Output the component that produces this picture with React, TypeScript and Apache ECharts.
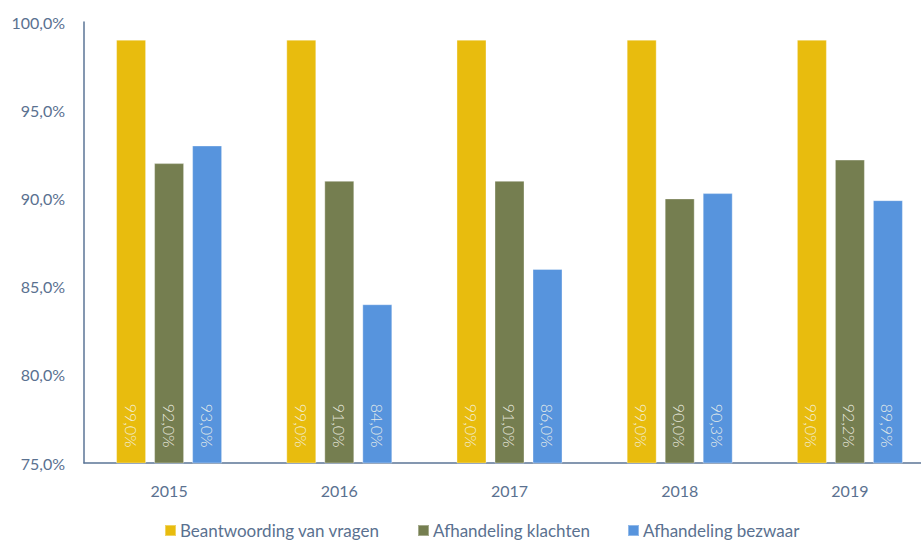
import React, { useEffect, useRef } from "react";
import * as echarts from "echarts";

const categories = ["2015", "2016", "2017", "2018", "2019"];
const seriesNames = ["Beantwoording van vragen", "Afhandeling klachten", "Afhandeling bezwaar"];
const vragen = [99.0, 99.0, 99.0, 99.0, 99.0];
const klachten = [92.0, 91.0, 91.0, 90.0, 92.2];
const bezwaar = [93.0, 84.0, 86.0, 90.3, 89.9];
const colors = ["#E8BC0E", "#757E50", "#5794DD"];
const legendLefts = [164, 417, 627];

const fmt = (v: number) => v.toFixed(1).replace(".", ",") + "%";

export default function App() {
  const ref = useRef<HTMLDivElement>(null);
  useEffect(() => {
    if (!ref.current) return;
    const chart = echarts.init(ref.current, null, { renderer: "svg" });
    const font = "Lato";
    const textColor = "#5A7190";
    const data = [vragen, klachten, bezwaar];
    chart.setOption({
      animation: false,
      textStyle: { fontFamily: font },
      grid: {
        left: 84,
        top: 22,
        width: 851,
        height: 441,
        containLabel: false,
        outerBoundsMode: "none",
      },
      legend: seriesNames.map((n, i) => ({
        top: 522,
        left: legendLefts[i],
        padding: 0,
        itemWidth: 11,
        itemHeight: 11,
        icon: "rect",
        textStyle: { color: textColor, fontSize: 17, fontFamily: font, padding: [0, 0, 0, -1] },
        data: [n],
      })),
      xAxis: {
        type: "category",
        data: categories,
        axisLine: { lineStyle: { color: "#5B7596", width: 1.5 } },
        axisTick: { show: false },
        axisLabel: { color: textColor, fontSize: 16, margin: 19, fontFamily: font },
      },
      yAxis: {
        type: "value",
        min: 75,
        max: 100,
        interval: 5,
        axisLine: { show: true, lineStyle: { color: "#5B7596", width: 1.5 } },
        axisTick: { show: false },
        splitLine: { show: false },
        axisLabel: {
          color: textColor,
          fontSize: 16,
          margin: 19,
          fontFamily: font,
          formatter: (v: number) => fmt(v),
        },
      },
      series: seriesNames.map((name, i) => ({
        name,
        type: "bar",
        data: data[i],
        barWidth: 30,
        barGap: "26.7%",
        itemStyle: { color: colors[i], borderColor: "rgba(255,255,255,0.35)", borderWidth: 1 },
        label: {
          show: true,
          position: "insideBottom",
          rotate: -90,
          align: "right",
          verticalAlign: "middle",
          distance: 16,
          color: "rgba(245,245,235,0.9)",
          fontSize: 16,
          fontWeight: 300,
          fontFamily: font,
          formatter: (p: any) => fmt(p.value),
        },
      })),
    });
    return () => chart.dispose();
  }, []);
  return <div ref={ref} style={{ width: 921, height: 542, position: "absolute", left: 0, top: 0 }} />;
}
